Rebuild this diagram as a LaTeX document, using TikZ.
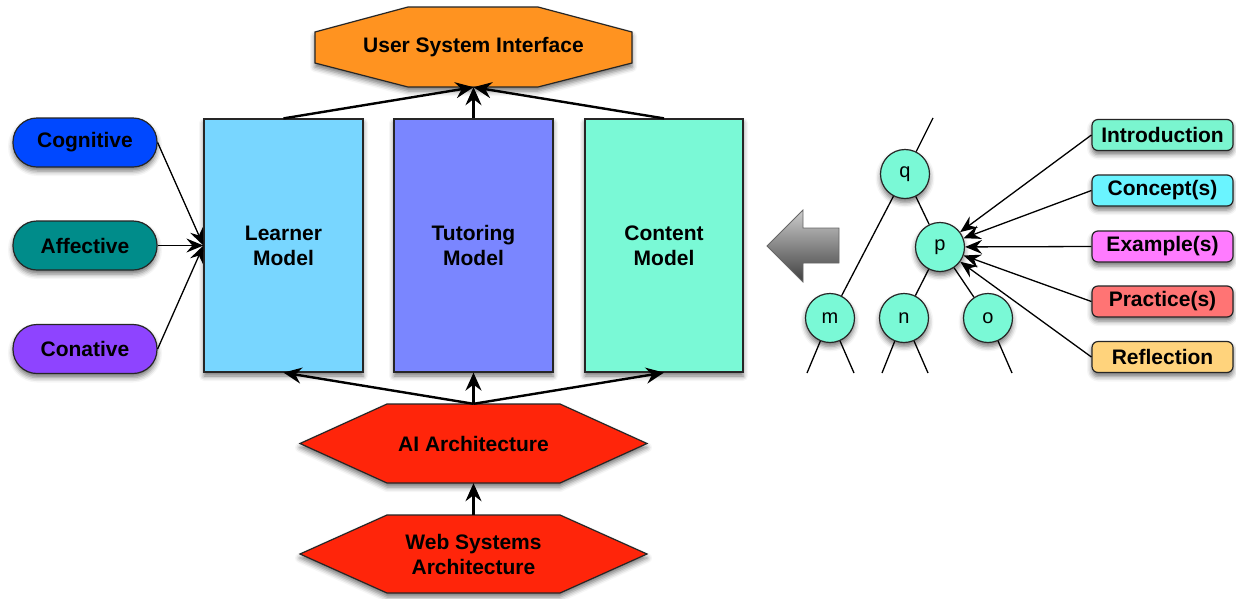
\documentclass[tikz,border=0pt]{standalone}
\usepackage{fontspec}
\setmainfont{Liberation Sans}
\usetikzlibrary{arrows.meta,shadows,shadows.blur}
\definecolor{cogc}{HTML}{0048FF}
\definecolor{affc}{HTML}{008C8A}
\definecolor{conc}{HTML}{8E44FF}
\definecolor{learnc}{HTML}{78D6FF}
\definecolor{tutc}{HTML}{7A86FF}
\definecolor{contc}{HTML}{7AF9D6}
\definecolor{usic}{HTML}{FF9320}
\definecolor{aic}{HTML}{FF250A}
\definecolor{introc}{HTML}{7AF5CF}
\definecolor{conceptc}{HTML}{6AF4FF}
\definecolor{examplec}{HTML}{FF7BFF}
\definecolor{practicec}{HTML}{FF7474}
\definecolor{reflc}{HTML}{FFD37C}
\begin{document}
\begin{tikzpicture}[x=1pt,y=-1pt,
  lbl/.style={font=\fontsize{21}{25}\selectfont\bfseries, text=black, align=center},
  shd/.style={blur shadow={shadow xshift=0pt, shadow yshift=-4pt, shadow opacity=55, shadow blur radius=5pt}},
  bord/.style={draw=black!85, line width=1.2pt},
  pill/.style={shd, bord, lbl, rounded corners=24pt, minimum width=144pt, minimum height=49pt, inner sep=0pt},
  model/.style={shd, bord, lbl, minimum width=159pt, minimum height=253pt, inner sep=0pt},
  tnode/.style={shd, bord, circle, fill=contc, minimum size=49pt, inner sep=0pt, font=\fontsize{20}{24}\selectfont},
  tag/.style={shd, bord, lbl, rounded corners=6pt, minimum width=141pt, minimum height=31pt, inner sep=0pt},
  tline/.style={draw=black, line width=1.3pt},
  thick arr/.style={-{Stealth[length=18pt,width=16pt,inset=6pt]}, line width=2.4pt, draw=black},
  thin arr/.style={-{Stealth[length=17pt,width=14pt,inset=6pt]}, line width=1.3pt, draw=black}
]
\useasboundingbox (0,0) rectangle (1236,598);

% left pills
\node[pill, fill=cogc] (cog) at (85,142.5) {Cognitive};
\node[pill, fill=affc] (aff) at (85,245.5) {Affective};
\node[pill, fill=conc] (con) at (85,349) {Conative};

% models
\node[model, fill=learnc] (learner) at (283.5,245.5) {Learner\\Model};
\node[model, fill=tutc] (tutor) at (473.5,245.5) {Tutoring\\Model};
\node[model, fill=contc, minimum width=158pt] (content) at (664,245.5) {Content\\Model};

% user system interface
\path[shd, bord, fill=usic] (408,7) -- (538,7) -- (632,32) -- (632,63) -- (538,87) -- (408,87) -- (315,63) -- (315,32) -- cycle;
\node[lbl, minimum width=317pt, minimum height=80pt, inner sep=0pt] (usi) at (473.5,47) {User System Interface};

% AI architecture
\path[shd, bord, fill=aic] (387,404) -- (560,404) -- (647,443.5) -- (560,483) -- (387,483) -- (300,443.5) -- cycle;
\node[lbl, minimum width=347pt, minimum height=79pt, inner sep=0pt] (ai) at (473.5,443.5) {AI Architecture};

% Web systems architecture
\path[shd, bord, fill=aic] (387,515) -- (560,515) -- (647,554) -- (560,593) -- (387,593) -- (300,554) -- cycle;
\node[lbl, minimum width=347pt, minimum height=78pt, inner sep=0pt] (web) at (473.5,554) {Web Systems\\Architecture};

% arrows
\draw[thin arr] (cog.east) -- (learner.west);
\draw[thin arr] (aff.east) -- (learner.west);
\draw[thin arr] (con.east) -- (learner.west);

\draw[thick arr] (learner.north) -- (usi.south);
\draw[thick arr] (tutor.north) -- (usi.south);
\draw[thick arr] (content.north) -- (usi.south);

\draw[thick arr] (ai.north) -- (learner.south);
\draw[thick arr] (ai.north) -- (tutor.south);
\draw[thick arr] (ai.north) -- (content.south);
\draw[thick arr] (web.north) -- (ai.south);

% big grey arrow
\path[draw=black!60, line width=0.8pt, top color=black!20, bottom color=black!75]
  (767,246) -- (803,210) -- (803,228) -- (839,228) -- (839,263) -- (803,263) -- (803,282) -- cycle;

% tree
\coordinate (qtop) at (933,118);
\coordinate (m1) at (807,373);
\coordinate (m2) at (854,373);
\coordinate (n1) at (882,373);
\coordinate (n2) at (928,373);
\coordinate (o1) at (1012,373);
\node[tnode] (q) at (905,174) {q};
\node[tnode] (p) at (940,247) {p};
\node[tnode] (m) at (830,318) {m};
\node[tnode] (n) at (904,318) {n};
\node[tnode] (o) at (988,318) {o};
\draw[tline] (q) -- (qtop);
\draw[tline] (q) -- (p);
\draw[tline] (q) -- (m);
\draw[tline] (p) -- (n);
\draw[tline] (p) -- (o);
\draw[tline] (m) -- (m1);
\draw[tline] (m) -- (m2);
\draw[tline] (n) -- (n1);
\draw[tline] (n) -- (n2);
\draw[tline] (o) -- (o1);

% right tags
\node[tag, fill=introc] (intro) at (1162.5,135) {Introduction};
\node[tag, fill=conceptc] (concept) at (1162.5,190.5) {Concept(s)};
\node[tag, fill=examplec] (example) at (1162.5,246.5) {Example(s)};
\node[tag, fill=practicec] (practice) at (1162.5,301.5) {Practice(s)};
\node[tag, fill=reflc] (refl) at (1162.5,357) {Reflection};

\draw[thin arr] (intro.west) -- (p);
\draw[thin arr] (concept.west) -- (p);
\draw[thin arr] (example.west) -- (p);
\draw[thin arr] (practice.west) -- (p);
\draw[thin arr] (refl.west) -- (p);
\end{tikzpicture}
\end{document}
